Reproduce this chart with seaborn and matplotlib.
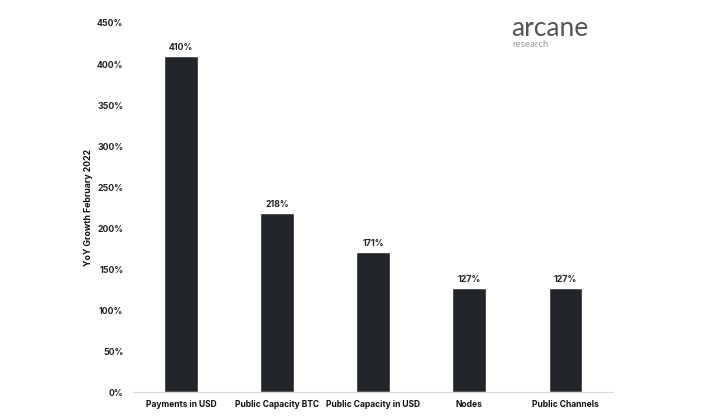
import pandas as pd
import matplotlib
matplotlib.use("Agg")
import matplotlib.pyplot as plt
import seaborn as sns

categories = ["Payments in USD", "Public Capacity BTC", "Public Capacity in USD", "Nodes", "Public Channels"]
growth = [410, 218, 171, 127, 127]
yticks = [0, 50, 100, 150, 200, 250, 300, 350, 400, 450]

df = pd.DataFrame({"metric": categories, "growth": growth})

sns.set_style("white")
plt.rcParams['font.family'] = ['Inter', 'DejaVu Sans']

fig = plt.figure(figsize=(7.17, 4.18), dpi=100)
ax = fig.add_axes([0.1855, 0.062, 0.67, 0.883])

sns.barplot(data=df, x="metric", y="growth", color="#222529", width=0.35,
            saturation=1, ax=ax)

for i, v in enumerate(growth):
    ax.text(i, v + 5, f"{v}%", ha="center", va="bottom", fontsize=6.3,
            fontweight="bold", color="#222222")

ax.set_ylim(0, 450)
ax.set_xlim(-0.5, 4.5)
ax.set_yticks(yticks)
ax.set_yticklabels([f"{t}%" for t in yticks], fontsize=6.3, fontweight="bold", color="#222222")
ax.set_xticks(range(len(categories)))
ax.set_xticklabels(categories, fontsize=6.1, fontweight="bold", color="#111111")
ax.tick_params(axis="both", length=0, pad=6)
ax.tick_params(axis="y", pad=7)
ax.set_xlabel("")
ax.set_ylabel("YoY Growth February 2022", fontsize=6.3, fontweight="bold", color="#111111", labelpad=3)

for s in ["top", "right", "left"]:
    ax.spines[s].set_visible(False)
ax.spines["bottom"].set_color("#d9d9d9")
ax.spines["bottom"].set_linewidth(0.8)

fig.text(0.713, 0.915, "arcane", fontsize=19, color="#555555", ha="left", va="baseline",
         family=["Lato", "DejaVu Sans"])
fig.text(0.715, 0.888, "research", fontsize=7, color="#999999", ha="left", va="baseline",
         family=["Lato", "DejaVu Sans"])

fig.savefig("out.png", dpi=100)
